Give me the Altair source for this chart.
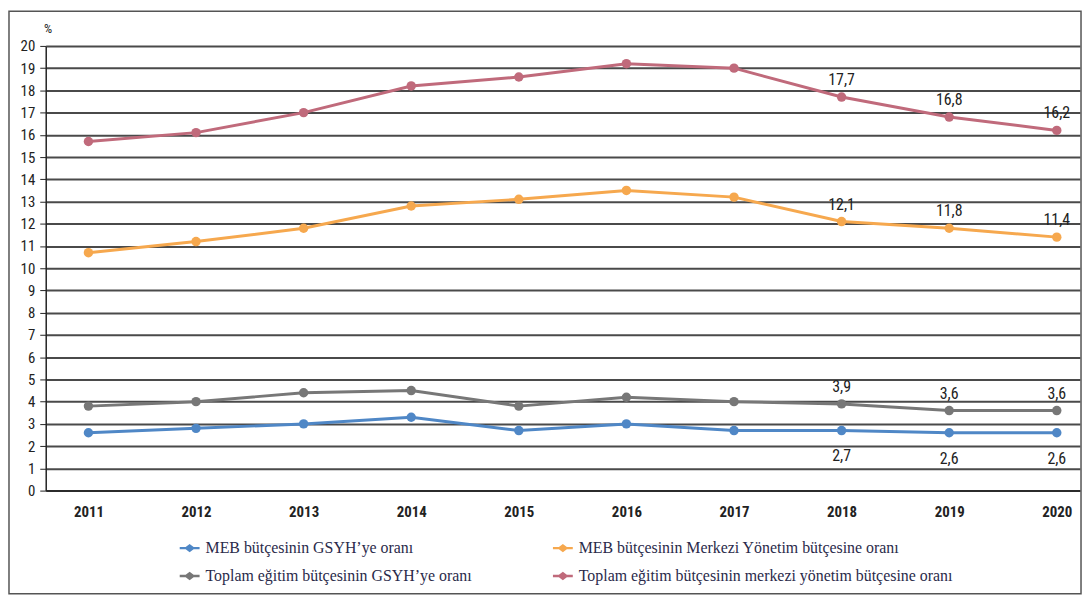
import altair as alt
import pandas as pd

years = [2011, 2012, 2013, 2014, 2015, 2016, 2017, 2018, 2019, 2020]
meb_gsyh = [2.6, 2.8, 3.0, 3.3, 2.7, 3.0, 2.7, 2.7, 2.6, 2.6]
meb_merkezi = [10.7, 11.2, 11.8, 12.8, 13.1, 13.5, 13.2, 12.1, 11.8, 11.4]
toplam_gsyh = [3.8, 4.0, 4.4, 4.5, 3.8, 4.2, 4.0, 3.9, 3.6, 3.6]
toplam_merkezi = [15.7, 16.1, 17.0, 18.2, 18.6, 19.2, 19.0, 17.7, 16.8, 16.2]

series_names = [
    "MEB bütçesinin GSYH’ye oranı",
    "MEB bütçesinin Merkezi Yönetim bütçesine oranı",
    "Toplam eğitim bütçesinin GSYH’ye oranı",
    "Toplam eğitim bütçesinin merkezi yönetim bütçesine oranı",
]
series_colors = ["#4f87c6", "#f6a84e", "#777777", "#c06a7b"]
label_from_year = 2018

rows = []
for name, vals in zip(series_names, [meb_gsyh, meb_merkezi, toplam_gsyh, toplam_merkezi]):
    for y, v in zip(years, vals):
        rows.append({"year": y, "value": v, "series": name})
df = pd.DataFrame(rows)

FONT = "Liberation Sans Narrow, Roboto Condensed, Liberation Sans, sans-serif"
LFONT = "Liberation Serif, DejaVu Serif, serif"

x_enc = alt.X(
    "year:Q",
    scale=alt.Scale(domain=[2010.603, 2020.216], nice=False, zero=False),
    axis=alt.Axis(
        values=years, format="d", title=None, grid=False, ticks=False,
        domainColor="#222", domainWidth=1.5, labelFont=FONT, labelFontSize=15,
        labelFontWeight="bold", labelColor="#222", labelPadding=14,
        labelOverlap=False,
    ),
)
y_enc = alt.Y(
    "value:Q",
    scale=alt.Scale(domain=[0, 20], nice=False),
    axis=alt.Axis(
        values=list(range(0, 21)), title="%", titleAngle=0, titleX=2, titleY=-14,
        titleAlign="center", titleBaseline="alphabetic", titleFont=FONT,
        titleFontSize=13, titleFontWeight="normal", titleColor="#222",
        grid=True, gridColor="#4a4a4a", gridWidth=2, tickSize=6, tickColor="#222",
        domainColor="#222", domainWidth=1.5, labelFont=FONT, labelFontSize=15,
        labelColor="#222", labelPadding=5, labelOverlap=False,
    ),
)

legend = alt.Legend(
    title=None, orient="none", legendX=135, legendY=496, columns=2,
    columnPadding=81, rowPadding=10, direction="horizontal",
    symbolType="M-1,-0.12L-0.4,-0.12L0,-0.42L0.4,-0.12L1,-0.12L1,0.12L0.4,0.12L0,0.42L-0.4,0.12L-1,0.12Z",
    symbolSize=400, symbolStrokeWidth=0, labelFont=LFONT, labelFontSize=16,
    labelColor="#2a2a4a", labelOffset=6, labelLimit=500,
)
color_enc = alt.Color(
    "series:N", scale=alt.Scale(domain=series_names, range=series_colors), legend=legend
)

base = alt.Chart(df)

lines = base.mark_line(strokeWidth=3).encode(x=x_enc, y=y_enc, color=color_enc)
points = base.mark_point(size=90, filled=True, opacity=1).encode(
    x=x_enc, y=y_enc, color=color_enc, fill=color_enc
)

lab = base.transform_filter(alt.datum.year >= label_from_year).transform_calculate(
    txt="replace(format(datum.value, '.1f'), '.', ',')"
)
labels_above = lab.transform_filter(alt.datum.series != series_names[0]).mark_text(
    dy=-17, font=FONT, fontSize=16, color="#222"
).encode(x=x_enc, y=y_enc, text="txt:N")
labels_below = lab.transform_filter(alt.datum.series == series_names[0]).mark_text(
    dy=26, font=FONT, fontSize=16, color="#222"
).encode(x=x_enc, y=y_enc, text="txt:N")

frame = alt.Chart(pd.DataFrame({"a": [0]})).mark_rect(
    fill=None, stroke="#555", strokeWidth=1.5
).encode(
    x=alt.value(-37), x2=alt.value(1043), y=alt.value(-35), y2=alt.value(552)
)

chart = alt.layer(lines, points, labels_above, labels_below, frame).properties(
    width=1042, height=448,
    autosize=alt.AutoSizeParams(type="none"),
    padding={"left": 38, "top": 36, "right": 3, "bottom": 106},
    background="white",
).configure_view(stroke=None)

chart.save("out.html", embed_options={"renderer": "svg", "actions": False})
